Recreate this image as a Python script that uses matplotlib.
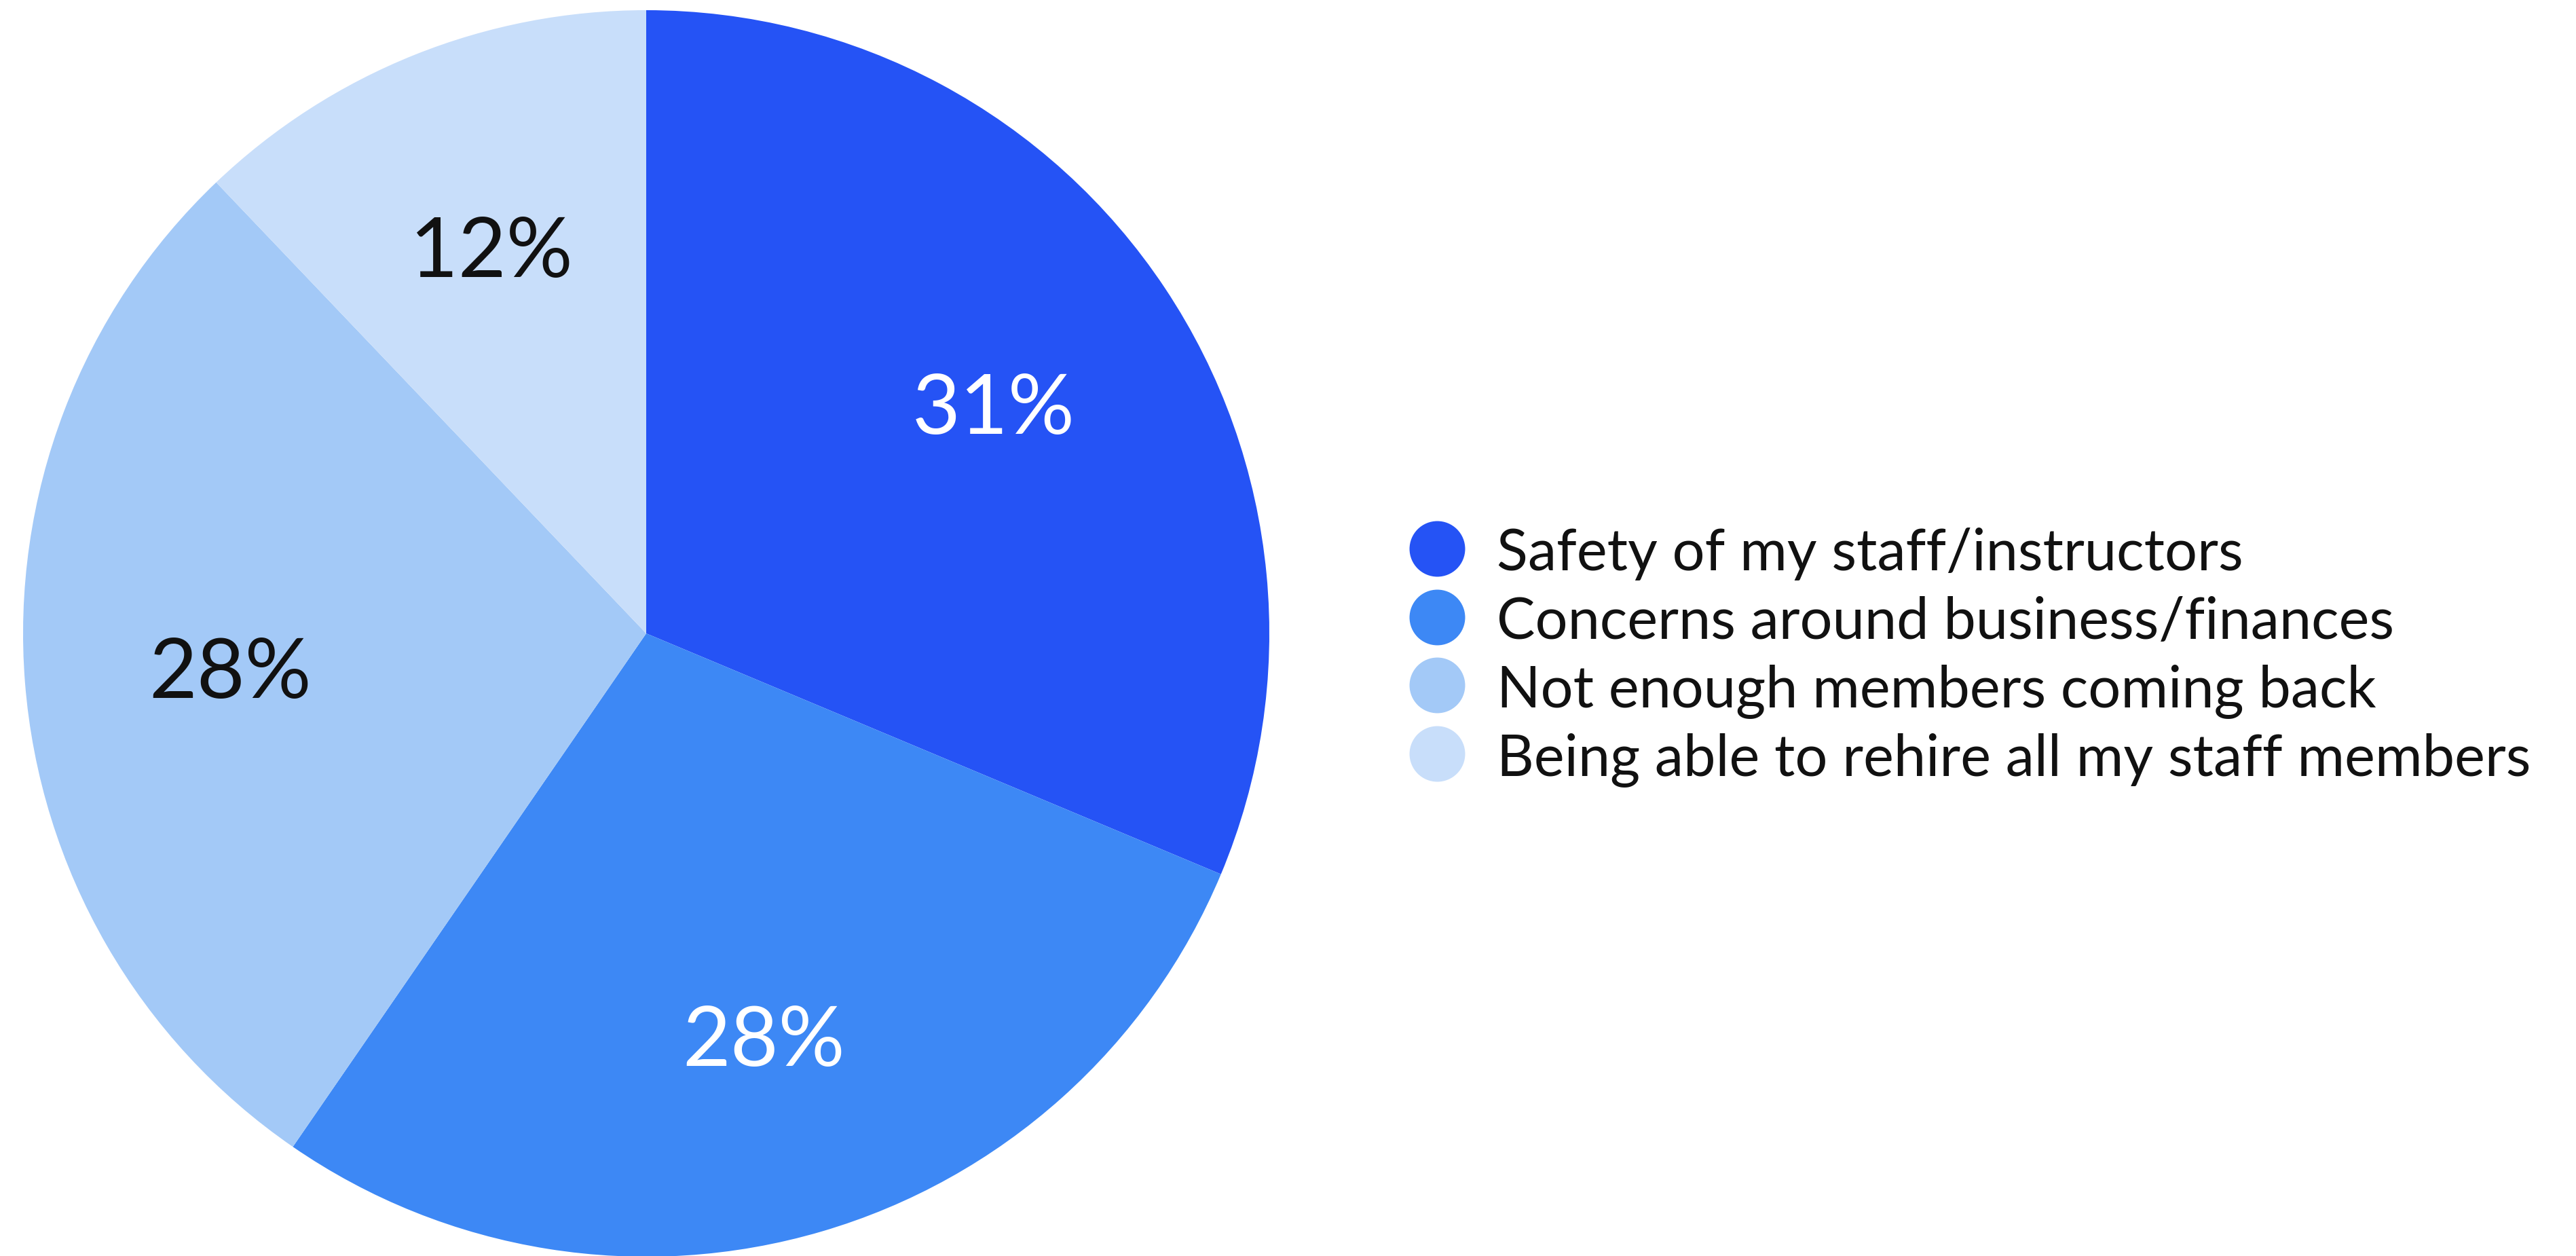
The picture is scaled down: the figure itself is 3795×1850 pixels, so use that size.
import matplotlib
matplotlib.use('Agg')
import matplotlib.pyplot as plt
from matplotlib import rcParams

rcParams['font.family'] = ['Lato', 'DejaVu Sans']

labels = ['Safety of my staff/instructors',
          'Concerns around business/finances',
          'Not enough members coming back',
          'Being able to rehire all my staff members']
shares = [31, 28, 28, 12]
colors = ['#2553F5', '#3D88F5', '#A3C9F7', '#C8DEFA']
pct_colors = ['white', 'white', '#111111', '#111111']

W, H = 3795, 1850
fig = plt.figure(figsize=(W / 100, H / 100), dpi=100)

# pie: centre (952, 933) px, radius 918 px
cx, cy, r = 952, 933, 918
ax = fig.add_axes([(cx - r) / W, (H - cy - r) / H, 2 * r / W, 2 * r / H])
wedges, texts, autotexts = ax.pie(shares, colors=colors, startangle=90,
                                  counterclock=False, autopct='%1.0f%%',
                                  pctdistance=0.67, radius=1,
                                  wedgeprops={'linewidth': 0})
for t, c in zip(autotexts, pct_colors):
    t.set_color(c)
    t.set_fontsize(88)
    x, y = t.get_position()
    t.set_position((x, y - 0.013))
ax.set_xlim(-1, 1)
ax.set_ylim(-1, 1)
ax.set_aspect('equal')
ax.axis('off')

# legend drawn in pixel coordinates
lax = fig.add_axes([0, 0, 1, 1])
lax.set_xlim(0, W)
lax.set_ylim(H, 0)
lax.axis('off')
y0, step = 808, 100.7
for i, (lab, col) in enumerate(zip(labels, colors)):
    y = y0 + i * step
    lax.plot(2117, y, 'o', markersize=59, color=col, markeredgewidth=0)
    lax.text(2205, y + 32, lab, fontsize=61, va='baseline', ha='left',
             color='#111111')

fig.savefig('out.png', dpi=100, facecolor='white')
